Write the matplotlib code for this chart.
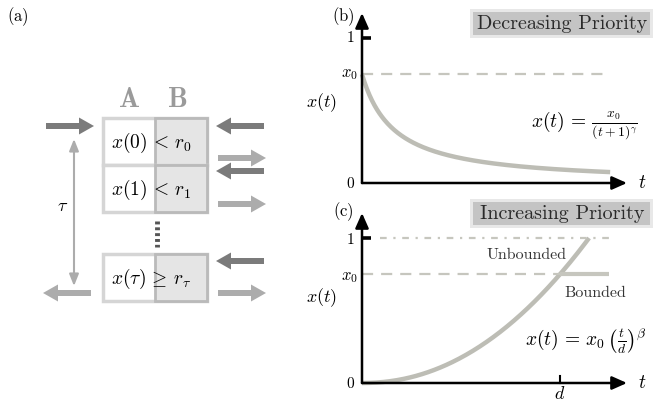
import numpy as np
import matplotlib
matplotlib.use('Agg')
import matplotlib.pyplot as plt
from matplotlib.patches import Rectangle, FancyArrow

plt.rcParams['mathtext.fontset'] = 'cm'

# values
x0 = 0.75
gamma = 1.1
beta = 2.1
d = 1.0
t_end_b = 7.09

row_labels = [r'$x(0)\,<\,r_0$', r'$x(1)\,<\,r_1$', r'$x(\tau)\,\geq\,r_\tau$']
row_tops = [118, 165, 254]
row_h = 47
# right side arrows: y position, direction (+1 right / -1 left)
right_y = [126, 158, 171, 204, 261, 293]
right_dir = [-1, 1, -1, 1, -1, 1]

W, H = 658, 403
fig = plt.figure(figsize=(W / 100, H / 100), dpi=100)

dark = '#7b7b7b'
light = '#acacac'
curve_c = '#bdbdb5'
dash_c = '#c6c6be'

# ---- panel (a), drawn in pixel coords
ax0 = fig.add_axes([0, 0, 1, 1])
ax0.set_xlim(0, W)
ax0.set_ylim(H, 0)
ax0.axis('off')

ax0.text(18, 17, r'$\mathrm{(a)}$', fontsize=12, ha='center', va='center')
ax0.text(343, 17, r'$\mathrm{(b)}$', fontsize=12, ha='center', va='center')
ax0.text(343, 212, r'$\mathrm{(c)}$', fontsize=12, ha='center', va='center')

ax0.text(130, 100, 'A', fontfamily='cmb10', fontsize=20, color='#9a9a9a', ha='center', va='center')
ax0.text(178, 100, 'B', fontfamily='cmb10', fontsize=20, color='#9a9a9a', ha='center', va='center')

for lab, top in zip(row_labels, row_tops):
    ax0.add_patch(Rectangle((103, top), 104, row_h, facecolor='white', edgecolor='#d5d5d5', lw=2.5))
    ax0.add_patch(Rectangle((155, top), 52, row_h, facecolor='#e5e5e5', edgecolor='#bababa', lw=2))
    ax0.text(151, top + row_h / 2 + 1, lab, fontsize=14, ha='center', va='center')

ax0.plot([157, 157], [221, 247], color='#555555', lw=3.5, ls=(0, (0.6, 0.6)), solid_capstyle='butt')

def arrow(xt, y, direction, col):
    # tail x, direction +1 right / -1 left
    ax0.add_patch(FancyArrow(xt, y, direction * 48, 0, width=6, head_width=17, head_length=15,
                             length_includes_head=True, color=col, lw=0))

arrow(46, 126, 1, dark)
arrow(91, 293, -1, light)
for y, s in zip(right_y, right_dir):
    if s < 0:
        arrow(264, y, -1, dark)
    else:
        arrow(218, y, 1, light)

ax0.annotate('', xy=(74, 139), xytext=(74, 286),
             arrowprops=dict(arrowstyle='<|-|>,head_length=0.5,head_width=0.2', mutation_scale=14,
                             color=light, lw=1.5, shrinkA=0, shrinkB=0))
ax0.text(63, 206, r'$\tau$', fontsize=13, ha='center', va='center')

# title boxes
for (bx, by, txt) in [(470, 9, 'Decreasing Priority'), (470, 199, 'Increasing Priority')]:
    ax0.add_patch(Rectangle((bx, by), 183, 29, facecolor='#e8e8e8', lw=0))
    ax0.add_patch(Rectangle((bx + 3, by + 3), 177, 23, facecolor='#c4c4c4', lw=0))
    ax0.text(bx + 92, by + 15, txt, fontfamily='cmr10', fontsize=14.5, color='#2a2a2a',
             ha='center', va='center')

# ---- panels (b), (c)
def px_axes(xl, xr, yb, yt):
    a = fig.add_axes([xl / W, 1 - yb / H, (xr - xl) / W, (yb - yt) / H])
    a.axis('off')
    return a

def draw_axes(a, xmax_arrow, ymax_arrow, tick1_len):
    kw = dict(arrowstyle='-|>,head_length=0.45,head_width=0.2', mutation_scale=20,
              color='k', lw=1.8, shrinkA=0, shrinkB=0)
    a.annotate('', xy=(0, ymax_arrow), xytext=(0, 0), arrowprops=kw, annotation_clip=False)
    a.annotate('', xy=(xmax_arrow, 0), xytext=(0, 0), arrowprops=kw, annotation_clip=False)
    a.plot([0, tick1_len], [1, 1], color='k', lw=2.6, solid_capstyle='butt', clip_on=False)

ys = 145.0  # px per unit in y

# (b)
sb = 35.0
axb = px_axes(362, 640, 183, 10)
axb.set_xlim(0, 278 / sb)
axb.set_ylim(0, 173 / ys)
tb = np.linspace(0, t_end_b, 300)
axb.plot(tb, x0 / (tb + 1) ** gamma, color=curve_c, lw=3.2, solid_capstyle='butt', clip_on=False)
axb.plot([0, 7.03], [x0, x0], color=dash_c, lw=1.6, dashes=(5, 3.6), clip_on=False)
draw_axes(axb, 265 / sb, 170 / ys, 9 / sb)

ax0.text(350, 38, r'$1$', fontsize=11, ha='center', va='center')
ax0.text(349, 73, r'$x_0$', fontsize=12, ha='center', va='center')
ax0.text(351, 183, r'$0$', fontsize=11, ha='center', va='center')
ax0.text(322, 103, r'$x(t)$', fontsize=13, ha='center', va='center')
ax0.text(642, 183, r'$t$', fontsize=14, ha='center', va='center')
ax0.text(584, 126, r'$x(t)\,=\,\frac{x_0}{(t+1)^\gamma}$', fontsize=14, ha='center', va='center')

# (c)
sc = 198.0
axc = px_axes(362, 640, 383, 205)
axc.set_xlim(0, 278 / sc)
axc.set_ylim(0, 178 / ys)
t_top = (1 / x0) ** (1 / beta)
tc = np.linspace(0, t_top, 300)
axc.plot(tc, x0 * (tc / d) ** beta, color=curve_c, lw=3.2, solid_capstyle='butt', clip_on=False)
axc.plot([0, d], [x0, x0], color=dash_c, lw=1.6, dashes=(5, 3.6), clip_on=False)
axc.plot([d, 1.245], [x0, x0], color=dash_c, lw=3, solid_capstyle='butt', clip_on=False)
axc.plot([0.09, 1.245], [1, 1], color=dash_c, lw=1.6, dashes=(3, 3, 1, 3), clip_on=False)
axc.plot([d, d], [0, 7 / ys], color='k', lw=1.5, clip_on=False)
draw_axes(axc, 265 / sc, 170 / ys, 9 / sc)

ax0.text(350, 240, r'$1$', fontsize=11, ha='center', va='center')
ax0.text(349, 276, r'$x_0$', fontsize=12, ha='center', va='center')
ax0.text(351, 383, r'$0$', fontsize=11, ha='center', va='center')
ax0.text(322, 298, r'$x(t)$', fontsize=13, ha='center', va='center')
ax0.text(642, 383, r'$t$', fontsize=14, ha='center', va='center')
ax0.text(560, 394, r'$d$', fontsize=13, ha='center', va='center')
ax0.text(527, 255, 'Unbounded', fontfamily='cmr10', fontsize=11.5, color='#333333', ha='center', va='center')
ax0.text(595, 293, 'Bounded', fontfamily='cmr10', fontsize=11.5, color='#333333', ha='center', va='center')
ax0.text(586, 341, r'$x(t)\,=\,x_0\,\left(\frac{t}{d}\right)^\beta$', fontsize=14, ha='center', va='center')

fig.savefig('out.png', dpi=100)
